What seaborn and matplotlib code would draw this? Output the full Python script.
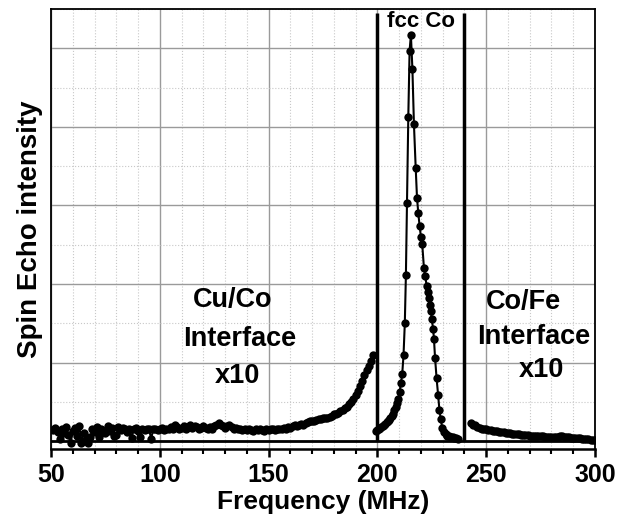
"""
Spin echo NMR spectrum: Cu/Co interface, fcc Co peak and Co/Fe interface.
"""

import numpy as np
import seaborn as sns
import matplotlib.pyplot as plt
from matplotlib.ticker import MultipleLocator

# ----------------------------------------------- DATA ----------------------------------------------- #

# Cu/Co interface part (x10), 1 MHz sweep
cu_freq = np.arange(51, 199)
cu_echo = [0.14, 0.17, 0.12, 0.03, 0.16, 0.10, 0.18, 0.08, -0.03, 0.13,
           0.17, 0.06, 0.19, -0.02, 0.10, 0.02, -0.03, 0.05, 0.15, 0.11,
           0.18, 0.05, 0.16, 0.12, 0.10, 0.19, 0.13, 0.17, 0.06, 0.08,
           0.18, 0.14, 0.17, 0.15, 0.12, 0.16, 0.04, 0.15, 0.17, 0.13,
           0.05, 0.16, 0.14, 0.15, 0.16, 0.03, 0.15, 0.16, 0.14, 0.15,
           0.17, 0.14, 0.16, 0.15, 0.18, 0.16, 0.21, 0.18, 0.15, 0.17,
           0.19, 0.16, 0.18, 0.20, 0.17, 0.19, 0.18, 0.16, 0.17, 0.19,
           0.17, 0.15, 0.18, 0.16, 0.19, 0.21, 0.23, 0.20, 0.19, 0.17,
           0.19, 0.20, 0.18, 0.16, 0.17, 0.15, 0.16, 0.14, 0.15, 0.14,
           0.15, 0.14, 0.13, 0.15, 0.14, 0.15, 0.14, 0.13, 0.15, 0.14,
           0.15, 0.16, 0.14, 0.15, 0.16, 0.15, 0.17, 0.16, 0.18, 0.17,
           0.19, 0.20, 0.19, 0.21, 0.22, 0.21, 0.23, 0.24, 0.25, 0.26,
           0.26, 0.27, 0.28, 0.28, 0.29, 0.30, 0.30, 0.31, 0.32, 0.34,
           0.35, 0.36, 0.38, 0.40, 0.42, 0.44, 0.47, 0.50, 0.54, 0.59,
           0.64, 0.70, 0.77, 0.84, 0.90, 0.96, 1.02, 1.10]

# fcc Co main line
co_freq = [199.4, 200.0, 200.6, 201.2, 201.8, 202.4, 203.0, 203.6, 204.2, 204.8,
           205.4, 206.0, 206.6, 207.2, 207.8, 208.4, 209.0, 209.6, 210.2, 210.8,
           211.4, 212.0, 212.6, 213.1, 213.6, 214.2, 214.8, 215.4, 216.1, 216.8,
           217.6, 218.2, 218.8, 219.4, 220.0, 220.6, 221.4, 222.0, 222.6, 223.1,
           223.6, 224.0, 224.6, 225.0, 225.6, 226.0, 226.5, 227.2, 227.9, 228.5,
           229.1, 229.8, 230.6, 231.4, 232.2, 233.0, 233.8, 234.6, 235.4, 236.2,
           236.9]
co_echo = [0.13, 0.14, 0.15, 0.17, 0.18, 0.19, 0.21, 0.22, 0.24, 0.26,
           0.27, 0.29, 0.32, 0.35, 0.39, 0.43, 0.48, 0.53, 0.62, 0.74,
           0.85, 1.09, 1.50, 2.11, 3.03, 4.12, 4.97, 5.17, 4.73, 4.03,
           3.48, 3.10, 2.90, 2.74, 2.60, 2.51, 2.20, 2.10, 1.98, 1.90,
           1.82, 1.73, 1.65, 1.55, 1.43, 1.30, 1.06, 0.80, 0.59, 0.40,
           0.28, 0.17, 0.12, 0.09, 0.07, 0.06, 0.055, 0.05, 0.045, 0.04,
           0.03]

# Co/Fe interface part (x10), 1 MHz sweep
fe_freq = np.arange(243, 301)
fe_echo = [0.23, 0.21, 0.20, 0.18, 0.17, 0.16, 0.155, 0.15, 0.145, 0.14,
           0.135, 0.13, 0.125, 0.12, 0.115, 0.11, 0.105, 0.10, 0.10, 0.095,
           0.09, 0.09, 0.085, 0.08, 0.08, 0.075, 0.075, 0.07, 0.07, 0.065,
           0.065, 0.06, 0.06, 0.06, 0.055, 0.055, 0.055, 0.05, 0.05, 0.055,
           0.055, 0.06, 0.06, 0.055, 0.05, 0.05, 0.045, 0.04, 0.04, 0.035,
           0.035, 0.03, 0.03, 0.025, 0.025, 0.02, 0.02, 0.02]

region_bounds = [200, 240]

# ----------------------------------------------- PLOT ----------------------------------------------- #

sns.set_theme(style='ticks')
plt.rcParams['font.family'] = ['Liberation Sans', 'DejaVu Sans']
plt.rcParams['font.weight'] = 'bold'
plt.rcParams['text.color'] = 'black'
plt.rcParams['axes.labelcolor'] = 'black'
plt.rcParams['xtick.color'] = 'black'
plt.rcParams['xtick.labelcolor'] = 'black'

fig = plt.figure(figsize=(6.17, 5.25), dpi=100)
ax = fig.add_axes([0.0827, 0.1448, 0.8816, 0.8381])

line_kw = dict(color='black', marker='o', markersize=6, markeredgewidth=0,
               linewidth=1.5, estimator=None, sort=False, ax=ax)
for xs, ys in [(cu_freq, cu_echo), (co_freq, co_echo), (fe_freq, fe_echo)]:
    sns.lineplot(x=xs, y=ys, **line_kw)

ax.axhline(0, color='black', linewidth=2, zorder=3)
ax.vlines(region_bounds, 0, 5.45, color='black', linewidth=2.5, zorder=3)

ax.set_xlim(50, 300)
ax.set_ylim(-0.1, 5.5)
ax.xaxis.set_major_locator(MultipleLocator(50))
ax.xaxis.set_minor_locator(MultipleLocator(10))
ax.yaxis.set_major_locator(MultipleLocator(1))
ax.yaxis.set_minor_locator(MultipleLocator(0.5))
ax.grid(which='major', color='#9a9a9a', linewidth=1)
ax.grid(which='minor', color='#c8c8c8', linestyle=':', linewidth=0.8)
ax.set_axisbelow(True)

ax.tick_params(axis='x', which='major', direction='out', length=6, width=1.8,
               labelsize=18, pad=4, color='black', labelcolor='black')
ax.tick_params(axis='x', which='minor', direction='out', length=3.5, width=1.5, color='black')
ax.tick_params(axis='y', which='both', length=0, labelleft=False)
for lab in ax.get_xticklabels():
    lab.set_fontweight('bold')
for side in ['left', 'right', 'top']:
    ax.spines[side].set_linewidth(1.3)
    ax.spines[side].set_color('black')
ax.spines['bottom'].set_linewidth(1.8)
ax.spines['bottom'].set_color('black')

ax.set_xlabel('Frequency (MHz)', fontsize=19, fontweight='bold', labelpad=2, color='black')
ax.set_ylabel('Spin Echo intensity', fontsize=20, fontweight='bold', labelpad=6, color='black')

txt = dict(fontsize=19.5, fontweight='bold', ha='center', va='center', color='black')
ax.text(220, 5.34, 'fcc Co', **dict(txt, fontsize=16))
ax.text(133.6, 1.79, 'Cu/Co', **txt)
ax.text(136.9, 1.30, 'Interface', **txt)
ax.text(135.5, 0.83, 'x10', **txt)
ax.text(266.9, 1.77, 'Co/Fe', **txt)
ax.text(272.0, 1.33, 'Interface', **txt)
ax.text(275.6, 0.90, 'x10', **txt)

plt.savefig('out.png', dpi=100)
